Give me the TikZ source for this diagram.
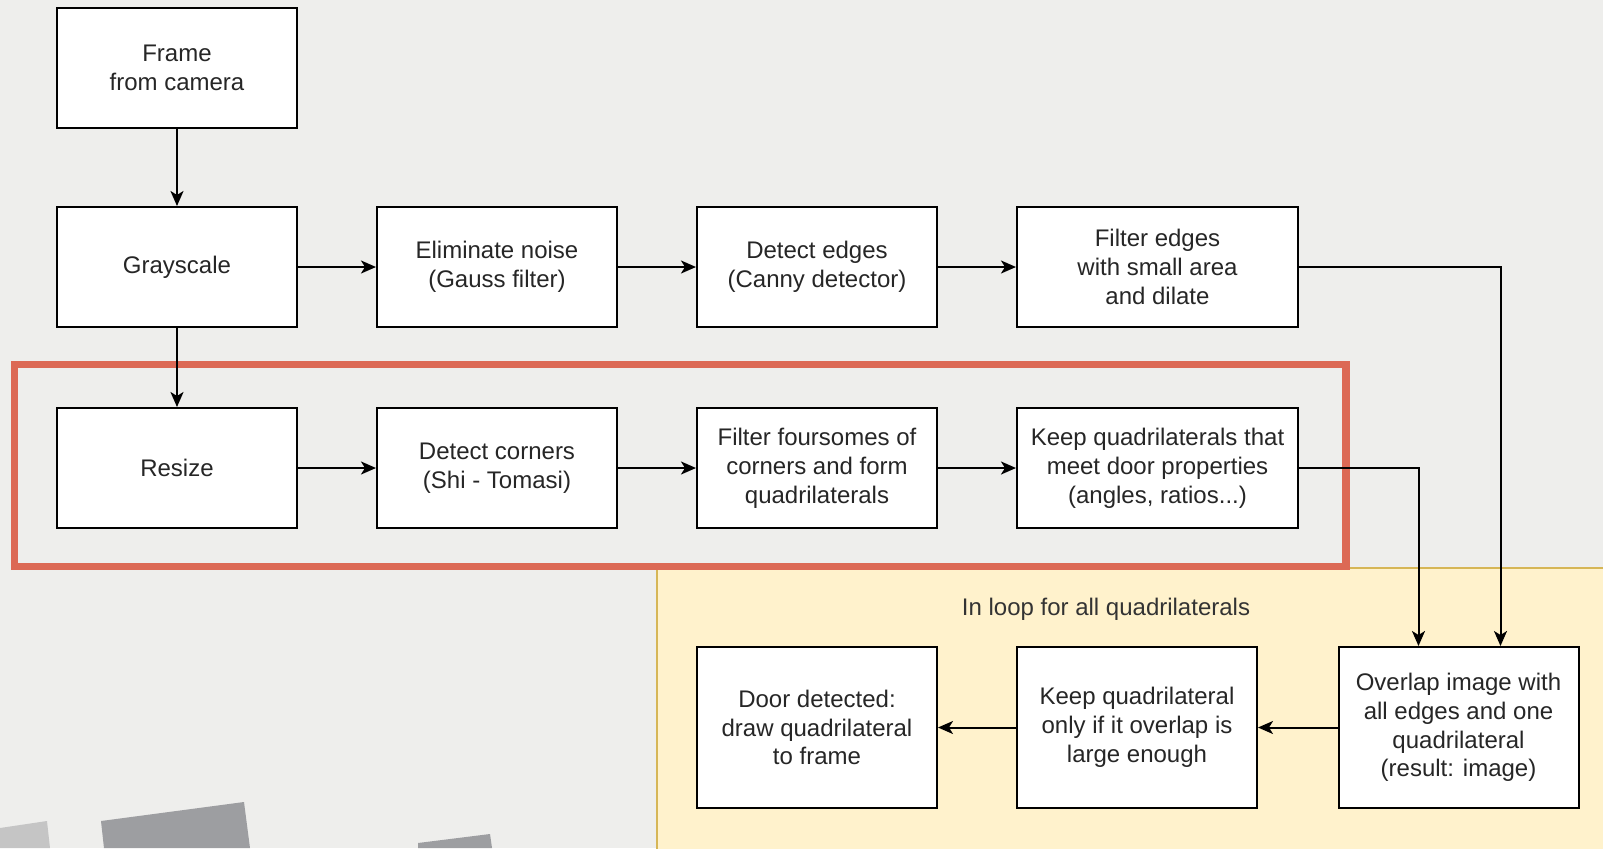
\documentclass[tikz,border=0pt]{standalone}
\usepackage{fontspec}
\setmainfont{Liberation Sans}
\usetikzlibrary{arrows.meta}
\definecolor{PageGray}{RGB}{238,238,236}
\definecolor{LoopFill}{RGB}{255,242,204}
\definecolor{LoopLine}{RGB}{214,182,86}
\definecolor{FocusRed}{RGB}{220,105,85}
\definecolor{ShapeLight}{RGB}{197,197,197}
\definecolor{ShapeDark}{RGB}{157,158,161}

\begin{document}
\begin{tikzpicture}[
    x=0.5pt, y=-0.5pt,
    stage/.style={draw, line width=1pt, fill=white, minimum width=120pt, minimum height=60pt, inner sep=0pt, align=center, text=black!85, font=\fontsize{12pt}{14.4pt}\selectfont},
    flow/.style={-{Stealth[length=7.5pt,width=6.5pt,inset=2pt]}, line width=1pt}
]
    % page and decoration
    \fill[PageGray] (0,0) rectangle (1603,848);
    \useasboundingbox (0,0) rectangle (1603,848);
    \fill[ShapeLight] (0,828) -- (47,821) -- (50,848) -- (0,848) -- cycle;
    \fill[ShapeDark] (101,821) -- (244,802) -- (250,848) -- (104,848) -- cycle;
    \fill[ShapeDark] (418,843) -- (490,834) -- (492,848) -- (418,848) -- cycle;

    % loop area and highlighted row
    \filldraw[fill=LoopFill, draw=LoopLine, line width=0.8pt] (657,568) rectangle (1610,860);
    \node[text=black!80, font=\fontsize{12pt}{14.4pt}\selectfont] (looplabel) at (1106,609) {In loop for all quadrilaterals};
    \draw[FocusRed, line width=3.75pt] (14.5,364.5) rectangle (1346,566.5);

    % stages
    \node[stage] (frame) at (177,68) {Frame\\from camera};
    \node[stage] (gray) at (177,267) {Grayscale};
    \node[stage] (noise) at (497,267) {Eliminate noise\\(Gauss filter)};
    \node[stage] (edges) at (817,267) {Detect edges\\(Canny detector)};
    \node[stage, minimum width=140.5pt] (filter) at (1157.5,267) {Filter edges\\with small area\\and dilate};
    \node[stage] (resize) at (177,468) {Resize};
    \node[stage] (corners) at (497,468) {Detect corners\\(Shi - Tomasi)};
    \node[stage] (foursomes) at (817,468) {Filter foursomes of\\corners and form\\quadrilaterals};
    \node[stage, minimum width=140.5pt] (keep) at (1157.5,468) {Keep quadrilaterals that\\meet door properties\\(angles, ratios...)};
    \node[stage, minimum height=80.5pt] (door) at (817,727.5) {Door detected:\\draw quadrilateral\\to frame};
    \node[stage, minimum height=80.5pt] (keepq) at (1137,727.5) {Keep quadrilateral\\only if it overlap is\\large enough};
    \node[stage, minimum height=80.5pt] (overlap) at (1458.5,727.5) {Overlap image with\\all edges and one\\quadrilateral\\(result: image)};

    % connectors
    \draw[flow] (frame) -- (gray);
    \draw[flow] (gray) -- (resize);
    \draw[flow] (gray) -- (noise);
    \draw[flow] (noise) -- (edges);
    \draw[flow] (edges) -- (filter);
    \draw[flow] (resize) -- (corners);
    \draw[flow] (corners) -- (foursomes);
    \draw[flow] (foursomes) -- (keep);
    \draw[flow] (filter.east) -| ([xshift=21pt]overlap.north);
    \draw[flow] (keep.east) -| ([xshift=-20pt]overlap.north);
    \draw[flow] (overlap) -- (keepq);
    \draw[flow] (keepq) -- (door);
\end{tikzpicture}
\end{document}
